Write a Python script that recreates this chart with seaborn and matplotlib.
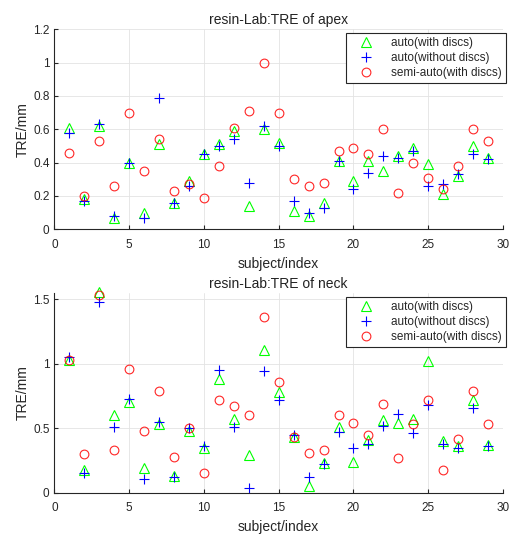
import matplotlib
matplotlib.use("Agg")
import matplotlib.pyplot as plt
import numpy as np, pandas as pd
import seaborn as sns
from matplotlib.ticker import FormatStrFormatter

sns.set_style("white")
plt.rcParams['font.family'] = ['Liberation Sans', 'DejaVu Sans']

subject = list(range(1, 30))

apex_auto = [0.61, 0.18, 0.62, 0.07, 0.40, 0.10, 0.51, 0.16, 0.29, 0.45,
             0.51, 0.59, 0.14, 0.60, 0.52, 0.11, 0.08, 0.16, 0.41, 0.29,
             0.41, 0.35, 0.44, 0.49, 0.39, 0.21, 0.32, 0.50, 0.43]
apex_nodisc = [0.58, 0.17, 0.63, 0.08, 0.40, 0.07, 0.79, 0.16, 0.26, 0.45,
               0.50, 0.54, 0.28, 0.62, 0.50, 0.17, 0.10, 0.13, 0.41, 0.24,
               0.34, 0.44, 0.43, 0.47, 0.26, 0.27, 0.33, 0.45, 0.42]
apex_semi = [0.46, 0.20, 0.53, 0.26, 0.70, 0.35, 0.54, 0.23, 0.27, 0.19,
             0.38, 0.61, 0.71, 1.00, 0.70, 0.30, 0.26, 0.28, 0.47, 0.49,
             0.45, 0.60, 0.22, 0.40, 0.31, 0.24, 0.38, 0.60, 0.53]

neck_auto = [1.03, 0.18, 1.56, 0.60, 0.70, 0.19, 0.53, 0.13, 0.48, 0.35,
             0.88, 0.57, 0.29, 1.11, 0.78, 0.43, 0.05, 0.23, 0.51, 0.24,
             0.41, 0.56, 0.54, 0.57, 1.02, 0.40, 0.36, 0.72, 0.37]
neck_nodisc = [1.05, 0.15, 1.48, 0.51, 0.73, 0.11, 0.55, 0.12, 0.50, 0.36,
               0.95, 0.51, 0.04, 0.94, 0.72, 0.45, 0.12, 0.22, 0.47, 0.35,
               0.38, 0.52, 0.61, 0.46, 0.68, 0.38, 0.35, 0.66, 0.36]
neck_semi = [1.03, 0.30, 1.53, 0.33, 0.96, 0.48, 0.79, 0.28, 0.50, 0.15,
             0.72, 0.67, 0.60, 1.36, 0.86, 0.43, 0.31, 0.33, 0.60, 0.54,
             0.45, 0.69, 0.27, 0.53, 0.72, 0.18, 0.42, 0.79, 0.53]

labels = ["auto(with discs)", "auto(without discs)", "semi-auto(with discs)"]

fig = plt.figure(figsize=(5.13, 5.34), dpi=100)
ax1 = fig.add_axes([0.106, 0.5706, 0.8745, 0.3745])
ax2 = fig.add_axes([0.106, 0.0773, 0.8745, 0.3734])


def draw(ax, auto, nodisc, semi, title, ylim, yticks):
    sns.lineplot(x=subject, y=auto, ax=ax, linestyle="", marker="^", ms=7,
                 mfc="none", mec=(0, 1, 0), mew=0.8, estimator=None,
                 label=labels[0], clip_on=False)
    sns.lineplot(x=subject, y=nodisc, ax=ax, linestyle="", marker="+", ms=6.5,
                 mec=(0, 0, 1), mew=0.8, estimator=None,
                 label=labels[1], clip_on=False)
    sns.lineplot(x=subject, y=semi, ax=ax, linestyle="", marker="o", ms=6.3,
                 mfc="none", mec=(1, 0, 0), mew=0.8, alpha=0.85, estimator=None,
                 label=labels[2], clip_on=False)
    ax.set_xlim(0, 30)
    ax.set_ylim(*ylim)
    ax.set_xticks(range(0, 31, 5))
    ax.set_yticks(yticks)
    ax.yaxis.set_major_formatter(FormatStrFormatter('%g'))
    ax.grid(True, color="#e3e3e3", linewidth=0.6)
    for s in ["top", "right"]:
        ax.spines[s].set_visible(False)
    for s in ["left", "bottom"]:
        ax.spines[s].set_color("#262626")
        ax.spines[s].set_linewidth(0.8)
    ax.tick_params(direction="in", length=3, width=0.8, labelsize=8.5,
                   colors="#262626", left=True, bottom=True)
    ax.tick_params(axis="x", pad=7)
    ax.set_title(title, fontsize=10, color="#222222", pad=4)
    ax.set_xlabel("subject/index", fontsize=10, color="#262626", labelpad=4)
    ax.set_ylabel("TRE/mm", fontsize=10, color="#262626", labelpad=2)
    leg = ax.legend(loc="upper right", bbox_to_anchor=(1.0067, 0.98),
                    fancybox=False, edgecolor="#262626", fontsize=8.5,
                    borderpad=0.35, labelspacing=0.25, handlelength=2.7,
                    handletextpad=0.8, borderaxespad=0)
    leg.get_frame().set_linewidth(0.8)
    leg.get_frame().set_alpha(1)


draw(ax1, apex_auto, apex_nodisc, apex_semi, "resin-Lab:TRE of apex",
     (0, 1.2), np.arange(0, 1.21, 0.2))
draw(ax2, neck_auto, neck_nodisc, neck_semi, "resin-Lab:TRE of neck",
     (0, 1.546), [0, 0.5, 1, 1.5])

fig.savefig("out.png", dpi=100)
